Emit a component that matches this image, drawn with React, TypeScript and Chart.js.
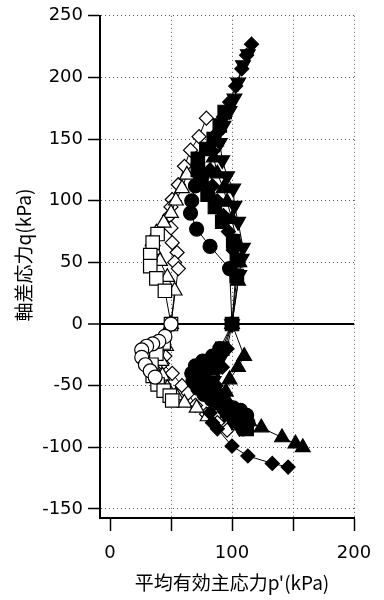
import React, { useEffect, useRef } from "react";
import { Chart, registerables } from "chart.js";

Chart.register(...registerables);

// ---- axis ticks ----
const xTickValues = [0, 50, 100, 150, 200];
const xLabelValues = [0, 100, 200];
const yTickValues = [-150, -100, -50, 0, 50, 100, 150, 200, 250];
const xTitle = "平均有効主応力p'(kPa)";
const yTitle = "軸差応力q(kPa)";

// ---- series (p', q) — each path: compression end -> consolidation point -> extension end ----
const openDiamondP = [79, 73, 66, 61, 56, 51, 50, 49, 50, 51, 55, 53, 56, 50, 45, 43, 51, 59, 64, 70, 79, 88, 96];
const openDiamondQ = [167, 152, 141, 128, 113, 101, 95, 88, 78, 66, 58, 50, 45, 0, -26, -32, -40, -50, -56, -66, -73, -80, -86];

const openSquareP = [39, 35, 33, 33, 38, 45, 50, 44, 38, 34, 35, 39, 44, 49, 51];
const openSquareQ = [73, 66, 56, 47, 37, 27, 0, -15, -24, -33, -42, -49, -54, -58, -62];

const openTriangleP = [63, 59, 54, 50, 44, 38, 35, 36, 41, 47, 53, 50, 46, 42, 43, 47, 54, 61, 71, 80];
const openTriangleQ = [121, 110, 100, 90, 82, 74, 67, 60, 51, 38, 27, 0, -18, -30, -42, -52, -58, -64, -68, -75];

const openCircleP = [50, 45, 40, 35, 30, 26, 26, 29, 33, 37];
const openCircleQ = [0, -10, -14, -16, -18, -21, -27, -33, -38, -43];

const filledDiamondP = [116, 112, 108, 103, 98, 93, 88, 84, 82, 84, 88, 93, 97, 101, 103, 100, 96, 92, 87, 83, 82, 84, 88, 100, 113, 133, 146];
const filledDiamondQ = [227, 218, 207, 193, 180, 168, 155, 140, 125, 112, 100, 88, 75, 60, 40, 0, -20, -35, -50, -62, -72, -80, -85, -99, -107, -113, -116];

const filledInvTriangleP = [113, 109, 105, 102, 98, 93, 90, 92, 96, 101, 102, 105, 109, 108, 106, 100, 92, 88, 85, 86, 89, 94, 100, 106];
const filledInvTriangleQ = [219, 210, 196, 183, 173, 161, 147, 133, 120, 110, 96, 83, 62, 53, 40, 0, -26, -36, -46, -56, -65, -73, -79, -84];

const filledTriangleP = [87, 85, 88, 93, 96, 100, 104, 106, 105, 100, 110, 105, 98, 95, 97, 104, 114, 124, 141, 152, 158];
const filledTriangleQ = [148, 135, 122, 110, 99, 85, 66, 50, 35, 0, -26, -35, -45, -55, -64, -72, -79, -84, -92, -97, -100];

const filledSquareP = [94, 90, 85, 79, 72, 72, 75, 80, 86, 92, 101, 104, 104, 100, 92, 86, 80, 77, 79, 84, 90, 96, 102, 108, 112];
const filledSquareQ = [172, 161, 150, 142, 134, 125, 115, 105, 95, 83, 67, 52, 39, 0, -20, -28, -36, -44, -52, -58, -64, -70, -75, -80, -85];

const filledCircleP = [75, 70, 67, 66, 71, 82, 98, 100, 90, 84, 76, 70, 67, 68, 72, 77, 83, 89, 95, 101, 107, 112, 113, 109];
const filledCircleQ = [120, 112, 100, 90, 77, 63, 45, 0, -20, -26, -30, -34, -40, -46, -52, -57, -61, -64, -66, -68, -70, -74, -80, -85];

const toPts = (ps: number[], qs: number[]) => ps.map((p, i) => ({ x: p, y: qs[i] }));

export default function App() {
  const ref = useRef<HTMLCanvasElement | null>(null);

  useEffect(() => {
    if (!ref.current) return;

    const mk = (label: string, ps: number[], qs: number[], style: string, filled: boolean, radius: number, rotation = 0) => ({
      label,
      data: toPts(ps, qs),
      showLine: true,
      borderColor: "#000",
      borderWidth: 1,
      pointStyle: style,
      pointRadius: radius,
      pointRotation: rotation,
      pointBackgroundColor: filled ? "#000" : "#fff",
      pointBorderColor: "#000",
      pointBorderWidth: 1.2,
      tension: 0,
    });

    const titlePlugin = {
      id: "axisTitles",
      afterDraw(chart: any) {
        const ctx = chart.ctx;
        ctx.save();
        ctx.fillStyle = "#000";
        ctx.font = "19px 'Noto Sans CJK JP', 'Noto Sans', sans-serif";
        ctx.textAlign = "center";
        ctx.textBaseline = "middle";
        ctx.fillText(xTitle, 232, 583);
        ctx.translate(24, 255);
        ctx.rotate(-Math.PI / 2);
        ctx.fillText(yTitle, 0, 0);
        ctx.restore();
      },
    };

    const chart = new Chart(ref.current, {
      type: "scatter",
      data: {
        datasets: [
          mk("filledCircle", filledCircleP, filledCircleQ, "circle", true, 7),
          mk("filledSquare", filledSquareP, filledSquareQ, "rect", true, 9.5),
          mk("filledTriangle", filledTriangleP, filledTriangleQ, "triangle", true, 8.5),
          mk("filledInvTriangle", filledInvTriangleP, filledInvTriangleQ, "triangle", true, 8.5, 180),
          mk("filledDiamond", filledDiamondP, filledDiamondQ, "rectRot", true, 7),
          mk("openCircle", openCircleP, openCircleQ, "circle", false, 7),
          mk("openSquare", openSquareP, openSquareQ, "rect", false, 9.5),
          mk("openTriangle", openTriangleP, openTriangleQ, "triangle", false, 8.5),
          mk("openDiamond", openDiamondP, openDiamondQ, "rectRot", false, 7),
        ] as any,
      },
      options: {
        animation: false,
        responsive: false,
        devicePixelRatio: 1,
        layout: { padding: { top: 14, right: 30, left: 0, bottom: 0 } },
        plugins: { legend: { display: false }, tooltip: { enabled: false } },
        scales: {
          x: {
            type: "linear",
            min: -8.2,
            max: 200,
            afterFit: (s: any) => {
              s.height = 82;
            },
            afterBuildTicks: (s: any) => {
              s.ticks = xTickValues.map((v) => ({ value: v }));
            },
            grid: {
              color: (c: any) => (c.tick && c.tick.value === 0 ? "rgba(0,0,0,0)" : "#555"),
              lineWidth: 1,
              tickColor: "#000",
              tickLength: 13,
              tickWidth: 1.5,
              tickBorderDash: [],
            },
            border: { display: true, color: "#000", width: 2, dash: [1, 3] },
            ticks: {
              color: "#000",
              padding: 12,
              font: { family: "'DejaVu Sans', sans-serif", size: 18 },
              maxRotation: 0,
              callback: (v: any) => (xLabelValues.includes(Number(v)) ? String(v) : ""),
            },
          },
          y: {
            type: "linear",
            min: -157.3,
            max: 250,
            afterFit: (s: any) => {
              s.width = 100;
            },
            afterBuildTicks: (s: any) => {
              s.ticks = yTickValues.map((v) => ({ value: v }));
            },
            grid: {
              color: (c: any) => (c.tick && c.tick.value === 0 ? "#000" : "#555"),
              lineWidth: (c: any) => (c.tick && c.tick.value === 0 ? 2 : 1),
              tickColor: "#000",
              tickLength: 12,
              tickWidth: 1.5,
              tickBorderDash: [],
            },
            border: {
              display: true,
              color: "#000",
              width: 2,
              dash: (c: any) => (c.tick && c.tick.value === 0 ? [] : [1, 3]),
            },
            ticks: {
              color: "#000",
              padding: 5,
              font: { family: "'DejaVu Sans', sans-serif", size: 18 },
            },
          },
        },
      } as any,
      plugins: [titlePlugin],
    });

    return () => chart.destroy();
  }, []);

  return (
    <div style={{ position: "fixed", left: 0, top: 0, width: 384, height: 600, background: "#fff" }}>
      <canvas ref={ref} width={384} height={600} style={{ width: 384, height: 600, display: "block" }} />
    </div>
  );
}
